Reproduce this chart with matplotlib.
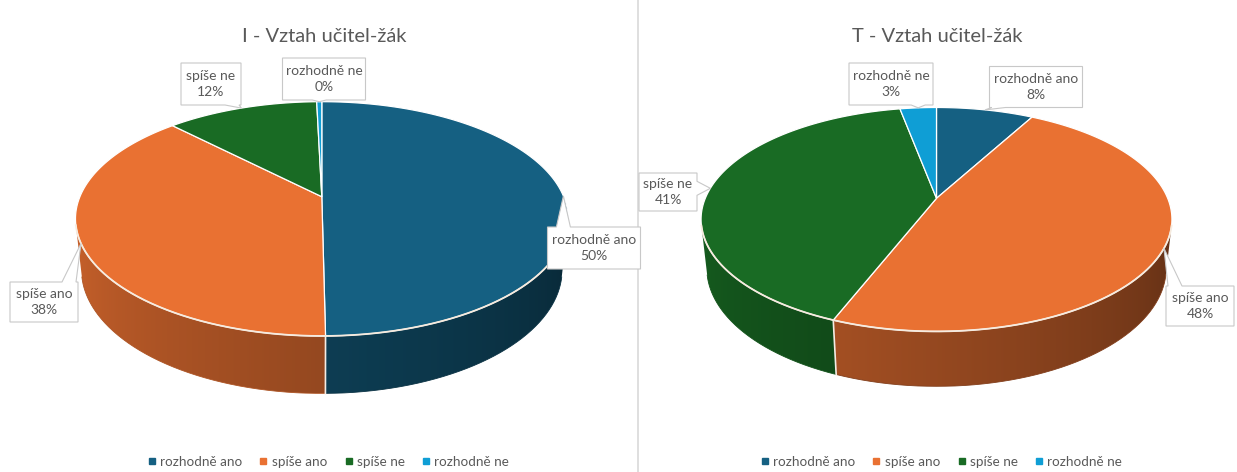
import numpy as np
import matplotlib.pyplot as plt
from matplotlib.patches import Polygon
from matplotlib.lines import Line2D
from matplotlib.colors import to_rgb

plt.rcParams['font.family'] = ['Lato', 'DejaVu Sans']

# data
categories = ['rozhodně ano', 'spíše ano', 'spíše ne', 'rozhodně ne']
colors = ['#156082', '#E97132', '#196B24', '#0F9ED5']
values_i = [50, 38, 12, 0.4]
values_t = [8, 48, 41, 3]
title_i = 'I - Vztah učitel-žák'
title_t = 'T - Vztah učitel-žák'

W, H = 1237, 472
TXT = '#595959'

# 3D camera for the tilted pies
ELEV = np.arcsin(0.467)
DIST = 4.68
THICK = 0.24
C_E, S_E = np.cos(ELEV), np.sin(ELEV)
EDGE_LIM = -1.0 / (DIST * C_E)


def project(phi, z, cx, cy, f, r=1.0):
    X = r * np.cos(phi)
    Y = r * np.sin(phi)
    depth = DIST + Y * C_E - z * S_E
    return cx + f * X / depth, cy - f * (Y * S_E + z * C_E) / depth


def shade(color, phi):
    a = np.degrees(phi) % 360
    k = 0.9 - 0.52 * (a - 180) / 180
    return np.clip(np.outer(k, to_rgb(color)), 0, 1)


def callout(ax, text, box, anchor):
    cx, cy, w, h = box
    x0, x1 = cx - w / 2, cx + w / 2
    y0, y1 = cy - h / 2, cy + h / 2
    px, py = anchor
    dx = (px - cx) / (w / 2)
    dy = (py - cy) / (h / 2)
    half = 7
    if abs(dy) >= abs(dx):
        edge = 'bottom' if dy > 0 else 'top'
        b = np.clip(px, x0 + half + 2, x1 - half - 2)
    else:
        edge = 'right' if dx > 0 else 'left'
        b = np.clip(py, y0 + half + 2, y1 - half - 2)
    pts = [(x0, y0)]
    if edge == 'top':
        pts += [(b - half, y0), (px, py), (b + half, y0)]
    pts.append((x1, y0))
    if edge == 'right':
        pts += [(x1, b - half), (px, py), (x1, b + half)]
    pts.append((x1, y1))
    if edge == 'bottom':
        pts += [(b + half, y1), (px, py), (b - half, y1)]
    pts.append((x0, y1))
    if edge == 'left':
        pts += [(x0, b + half), (px, py), (x0, b - half)]
    ax.add_patch(Polygon(pts, closed=True, fc='white', ec='#c8c8c8',
                         lw=0.8, zorder=6))
    ax.text(cx, cy, text, ha='center', va='center', fontsize=10,
            color=TXT, linespacing=1.35, zorder=7)


def pie3d(ax, values, cx, cy, f, label_boxes):
    vals = np.array(values, dtype=float)
    frac = vals / vals.sum()
    cum = np.concatenate([[0], np.cumsum(frac)])
    # slices start at 12 o'clock and run clockwise
    starts = np.radians(90 - 360 * cum[:-1])
    ends = np.radians(90 - 360 * cum[1:])

    # visible part of the outer wall: front arc between the silhouettes
    lo_vis = np.pi + np.arcsin(-EDGE_LIM)
    hi_vis = 2 * np.pi - np.arcsin(-EDGE_LIM)
    rim_phi = np.linspace(lo_vis, hi_vis, 600)
    rim_x, _ = project(rim_phi, 0, cx, cy, f)

    for a0, a1, col in zip(starts, ends, colors):
        # bring the slice range into the front window (may wrap)
        for shift in (0, 2 * np.pi, -2 * np.pi):
            lo = max(a1 + shift, lo_vis)
            hi = min(a0 + shift, hi_vis)
            if hi - lo < 1e-4:
                continue
            ph = np.linspace(lo, hi, 200)
            xt, yt = project(ph, 0, cx, cy, f)
            xb, yb = project(ph, -THICK, cx, cy, f)
            pts = list(zip(xt, yt)) + list(zip(xb[::-1], yb[::-1]))
            poly = Polygon(pts, closed=True, fc='none', ec='none', zorder=1)
            ax.add_patch(poly)
            xmin, xmax = min(xt.min(), xb.min()), max(xt.max(), xb.max())
            gx = np.linspace(xmin, xmax, 300)
            gphi = np.interp(gx, rim_x, rim_phi)
            img = shade(col, gphi)[None, :, :]
            ymin, ymax = min(yt.min(), yb.min()), max(yt.max(), yb.max())
            im = ax.imshow(img, extent=(xmin, xmax, ymax, ymin),
                           aspect='auto', interpolation='bilinear', zorder=1)
            im.set_clip_path(poly)
            # soften the lower outline
            ax.plot(xb, yb, color=tuple(shade(col, np.array([ph.mean()]))[0]),
                    lw=0.6, zorder=1)

    # seams between slices on the wall
    for a in starts:
        if np.sin(a) < EDGE_LIM:
            xt, yt = project(a, 0, cx, cy, f)
            xb, yb = project(a, -THICK, cx, cy, f)
            ax.plot([xt, xb], [yt, yb], color='#f4ece4', lw=1.2, zorder=2)

    # top face
    for a0, a1, col in zip(starts, ends, colors):
        n = max(int(np.degrees(a0 - a1) / 0.5), 2)
        ph = np.linspace(a0, a1, n + 1)
        xs, ys = project(ph, 0, cx, cy, f)
        ox, oy = project(0.0, 0, cx, cy, f, r=0.0)
        pts = [(ox, oy)] + list(zip(xs, ys))
        ax.add_patch(Polygon(pts, closed=True, fc=col, ec='white',
                             lw=0.9, joinstyle='round', zorder=3))

    # light rim along the front edge
    xs, ys = project(rim_phi, 0, cx, cy, f)
    ax.plot(xs, ys, color='#f6ebdf', lw=1.3, zorder=4)

    # callout labels
    mids = 0.5 * (starts + ends)
    for cat, fr, m, box in zip(categories, frac, mids, label_boxes):
        anchor = project(m, 0, cx, cy, f)
        callout(ax, f'{cat}\n{round(fr * 100):.0f}%', box, anchor)


fig = plt.figure(figsize=(W / 100, H / 100), dpi=100)
ax = fig.add_axes([0, 0, 1, 1])

# label boxes: (centre x, centre y, width, height)
boxes_i = [(594, 248, 93, 42), (44, 302, 68, 40),
           (211, 84, 60, 42), (324, 79, 83, 42)]
boxes_t = [(1036, 87, 93, 41), (1200, 306, 68, 40),
           (668, 192, 58, 38), (891, 84, 84, 42)]

pie3d(ax, values_i, 321.8, 196.7, 1132, boxes_i)
pie3d(ax, values_t, 936.5, 198.3, 1082, boxes_t)

ax.set_xlim(0, W)
ax.set_ylim(H, 0)
ax.axis('off')

ax.text(324, 36, title_i, ha='center', va='center', fontsize=14.5, color=TXT)
ax.text(937, 36, title_t, ha='center', va='center', fontsize=14.5, color=TXT)

ax.plot([638, 638], [0, H], color='#d9d9d9', lw=1.2, zorder=0)

handles = [Line2D([], [], marker='s', ls='', color=c, markersize=4)
           for c in colors]
leg_kw = dict(loc='center', ncol=4, frameon=False, fontsize=9.7,
              handletextpad=0.25, columnspacing=1.25, handlelength=0.7,
              labelcolor=TXT)
leg1 = ax.legend(handles, categories, bbox_to_anchor=(328 / W, 1 - 462 / H),
                 bbox_transform=ax.transAxes, **leg_kw)
ax.add_artist(leg1)
ax.legend(handles, categories, bbox_to_anchor=(941 / W, 1 - 462 / H),
          bbox_transform=ax.transAxes, **leg_kw)

fig.savefig('out.png', dpi=100)
